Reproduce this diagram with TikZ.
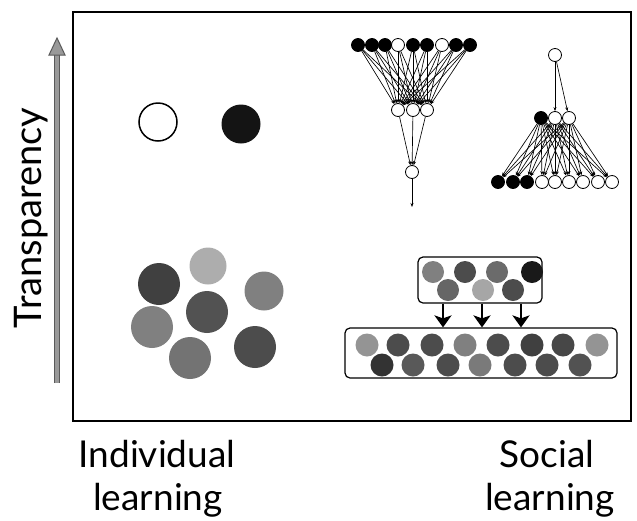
\documentclass[tikz,border=0pt]{standalone}
\usepackage{fontspec}
\setmainfont{Lato}
\usetikzlibrary{arrows.meta}
\begin{document}
\begin{tikzpicture}[x=1pt,y=-1pt,
  nn/.style={circle,draw=black,line width=0.8pt,minimum size=13pt,inner sep=0pt},
  bn/.style={nn,fill=black},
  wn/.style={nn,fill=white},
  ed/.style={line width=0.65pt,-{Stealth[length=4pt,width=3pt]}},
  gc/.style={circle,inner sep=0pt,minimum size=#1},
  box/.style={draw=black,line width=1.2pt,rounded corners=5pt,inner sep=0pt},
  bigarrow/.style={line width=2.8pt,-{Stealth[length=12pt,width=17pt,inset=3pt]}},
  lbl/.style={font=\fontsize{37}{43}\selectfont,anchor=base,inner sep=0pt}
]
\useasboundingbox (0,0) rectangle (637,520);
\fill[white] (0,0) rectangle (637,520);
% frame
\draw[line width=2.6pt] (73,12) rectangle (631,421);

% transparency axis
\coordinate (axb) at (57,383);
\coordinate (axt) at (57,52);
\draw[line width=6pt,draw=black!65] (axb) -- (axt);
\draw[line width=3.6pt,draw=black!40] (axb) -- (axt);
\draw[fill=black!40,draw=black!65,line width=1pt,line join=miter] (49,55) -- (57,38) -- (65,55) -- cycle;
\node[rotate=90,font=\fontsize{38}{40}\selectfont,inner sep=0pt] (trn) at (31,218) {Transparency};

% bottom labels
\node[lbl] (il1) at (157,467) {Individual};
\node[lbl] (il2) at (158,510) {learning};
\node[lbl] (sl1) at (547,467) {Social};
\node[lbl] (sl2) at (550,510) {learning};

% individual circles
\node[circle,draw=black,line width=1.5pt,minimum size=38pt,inner sep=0pt,fill=white] (oc) at (158,122) {};
\node[circle,fill=black!92,minimum size=39pt,inner sep=0pt] (fc) at (241,124) {};

\node[gc=37pt,fill=black!32] (g1) at (208,266) {};
\node[gc=42pt,fill=black!75] (g2) at (159,284) {};
\node[gc=39pt,fill=black!50] (g3) at (264,291) {};
\node[gc=42pt,fill=black!68] (g4) at (207,312) {};
\node[gc=42pt,fill=black!50] (g5) at (152,327) {};
\node[gc=42pt,fill=black!70] (g6) at (255,347) {};
\node[gc=42pt,fill=black!55] (g7) at (190,358) {};

% network 1
\foreach \i/\x/\s in {1/358/bn,2/372/bn,3/385/bn,4/398/wn,5/413/bn,6/427/bn,7/442/wn,8/456/bn,9/470/bn}
  \node[\s] (t\i) at (\x,45) {};
\foreach \j/\x in {1/398,2/413,3/427}
  \node[wn] (m\j) at (\x,110) {};
\node[wn] (o1) at (412,172) {};
\coordinate (oend) at (412,207);
\foreach \i in {1,...,9}
  \foreach \j in {1,2,3}
    \draw[ed] (t\i) -- (m\j);
\foreach \j in {1,2,3}
  \draw[ed] (m\j) -- (o1);
\draw[ed] (o1) -- (oend);

% network 2
\node[wn] (s0) at (555,55) {};
\node[bn] (p1) at (541,118) {};
\node[wn] (p2) at (555,118) {};
\node[wn] (p3) at (569,118) {};
\foreach \i/\x/\s in {1/498/bn,2/513/bn,3/527/bn,4/542/wn,5/555/wn,6/569/wn,7/583/wn,8/598/wn,9/612/wn}
  \node[\s] (q\i) at (\x,182) {};
\draw[ed] (s0) -- (p2);
\draw[ed] (s0) -- (p3);
\foreach \j in {1,2,3}
  \foreach \i in {1,...,9}
    \draw[ed] (p\j) -- (q\i);

% social boxes
\node[box,minimum width=124pt,minimum height=46pt] (ub) at (480,280) {};
\node[box,minimum width=272pt,minimum height=50pt] (lb) at (481,353) {};

\node[gc=22pt,fill=black!50] (u1) at (433,272) {};
\node[gc=22pt,fill=black!70] (u2) at (465,272) {};
\node[gc=22pt,fill=black!58] (u3) at (497,272) {};
\node[gc=22pt,fill=black!90] (u4) at (532,272) {};
\node[gc=22pt,fill=black!60] (u5) at (448,290) {};
\node[gc=22pt,fill=black!35] (u6) at (483,290) {};
\node[gc=22pt,fill=black!70] (u7) at (513,290) {};

\foreach \k/\x/\c in {1/367/42,2/398/70,3/432/70,4/465/50,5/498/70,6/532/75,7/563/72,8/597/42}
  \node[gc=23pt,fill=black!\c] (la\k) at (\x,345) {};
\foreach \k/\x/\c in {1/382/80,2/413/65,3/448/70,4/480/52,5/515/70,6/547/70,7/580/68}
  \node[gc=23pt,fill=black!\c] (lc\k) at (\x,365) {};

\coordinate (a1) at (443,0);
\coordinate (a2) at (482,0);
\coordinate (a3) at (521,0);
\foreach \a in {a1,a2,a3}
  \draw[bigarrow] (ub.south -| \a) -- (lb.north -| \a);
\end{tikzpicture}
\end{document}
